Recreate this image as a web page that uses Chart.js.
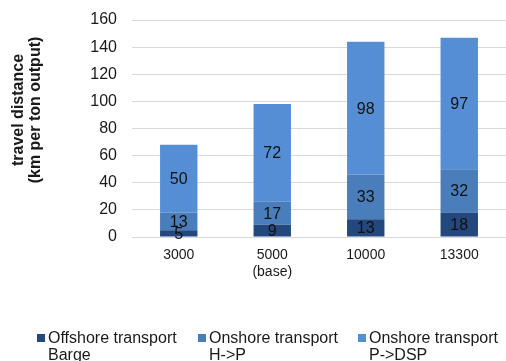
<!DOCTYPE html>
<html lang="en">
<head>
<meta charset="utf-8" />
<title>Travel distance by scenario</title>
<script src="https://cdn.jsdelivr.net/npm/chart.js@4.4.1/dist/chart.umd.min.js"></script>
<style>
  html,body{margin:0;padding:0;background:#fff;}
  #wrap{position:relative;width:506px;height:361px;}
</style>
</head>
<body>
<div id="wrap"><canvas id="chart" width="506" height="361"></canvas></div>
<script>
// Scenario capacities (x categories) and the three transport legs stacked per bar
const categories = [['3000'], ['5000', '(base)'], ['10000'], ['13300']];
const offshoreBarge = [5, 9, 13, 18];
const onshoreHP = [13, 17, 33, 32];
const onshorePDSP = [50, 72, 98, 97];
const yTicks = [0, 20, 40, 60, 80, 100, 120, 140, 160];

const FONT = "'Liberation Sans', Arial, sans-serif";
const TEXT = '#1a1a1a';

// value printed in the middle of each stacked segment
const segmentLabels = {
  id: 'segmentLabels',
  afterDatasetsDraw(chart) {
    const ctx = chart.ctx;
    ctx.save();
    ctx.font = `16px ${FONT}`;
    ctx.fillStyle = '#111';
    ctx.textAlign = 'center';
    ctx.textBaseline = 'middle';
    chart.data.datasets.forEach((ds, i) => {
      chart.getDatasetMeta(i).data.forEach((bar, j) => {
        const c = bar.getCenterPoint();
        ctx.fillText(String(ds.data[j]), c.x, c.y + 1);
      });
    });
    ctx.restore();
  }
};

// two-line rotated y title and the bottom legend
const extras = {
  id: 'extras',
  afterDraw(chart) {
    const ctx = chart.ctx;
    ctx.save();
    ctx.fillStyle = TEXT;
    ctx.font = `bold 16px ${FONT}`;
    ctx.textAlign = 'center';
    ctx.textBaseline = 'middle';
    ctx.translate(27, 110);
    ctx.rotate(-Math.PI / 2);
    ctx.fillText('travel distance', 0, -8);
    ctx.fillText('(km per ton output)', 0, 9);
    ctx.restore();

    ctx.save();
    ctx.font = `16px ${FONT}`;
    ctx.textAlign = 'left';
    ctx.textBaseline = 'alphabetic';
    const xs = [37, 198, 358];
    chart.data.datasets.forEach((ds, i) => {
      ctx.fillStyle = ds.backgroundColor;
      ctx.fillRect(xs[i], 334, 8, 8);
      ctx.fillStyle = TEXT;
      ds.legendLines.forEach((line, k) => ctx.fillText(line, xs[i] + 11, 343 + k * 17));
    });
    ctx.restore();
  }
};

new Chart(document.getElementById('chart'), {
  type: 'bar',
  data: {
    labels: categories,
    datasets: [
      { label: 'Offshore transport Barge', legendLines: ['Offshore transport', 'Barge'], data: offshoreBarge, backgroundColor: '#22487e' },
      { label: 'Onshore transport H->P', legendLines: ['Onshore transport', 'H->P'], data: onshoreHP, backgroundColor: '#4a7ebb' },
      { label: 'Onshore transport P->DSP', legendLines: ['Onshore transport', 'P->DSP'], data: onshorePDSP, backgroundColor: '#558ed5' }
    ]
  },
  options: {
    responsive: false,
    animation: false,
    categoryPercentage: 1,
    barPercentage: 0.4,
    layout: { padding: { top: 20, left: 0, right: 0, bottom: 0 } },
    plugins: { legend: { display: false }, tooltip: { enabled: false } },
    scales: {
      x: {
        stacked: true,
        grid: { display: false },
        border: { display: false },
        ticks: { color: TEXT, font: { family: FONT, size: 14 }, padding: 2, maxRotation: 0 },
        afterFit(s) { s.height = 124; s.paddingLeft = 0; s.paddingRight = 0; }
      },
      y: {
        stacked: true,
        min: 0,
        max: 160,
        afterBuildTicks(s) { s.ticks = yTicks.map(v => ({ value: v })); },
        grid: { color: '#d9d9d9', lineWidth: 1, drawTicks: false },
        border: { display: false },
        ticks: { color: TEXT, font: { family: FONT, size: 16 }, padding: 15 },
        afterFit(s) { s.width = 132; s.paddingTop = 0; s.paddingBottom = 0; }
      }
    }
  },
  plugins: [segmentLabels, extras]
});
</script>
</body>
</html>
